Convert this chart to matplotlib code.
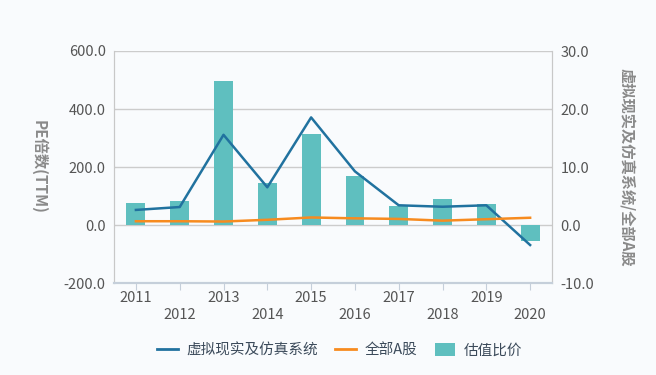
import matplotlib
matplotlib.use("Agg")
import matplotlib.pyplot as plt
from matplotlib.patches import Patch
from matplotlib.lines import Line2D

plt.rcParams['font.family'] = ['Noto Sans CJK SC', 'DejaVu Sans']

years = ['2011', '2012', '2013', '2014', '2015', '2016', '2017', '2018', '2019', '2020']
industry_pe = [52, 62, 311, 130, 371, 185, 68, 63, 68, -69]
all_a_pe = [13, 13, 12, 18, 26, 23, 21, 15, 20, 25]
ratio = [3.8, 4.2, 24.8, 7.3, 15.7, 8.5, 3.3, 4.4, 3.6, -2.8]

bg = '#f9fbfd'
tick_col = '#555555'
label_col = '#8a8a8a'

fig = plt.figure(figsize=(6.56, 3.75), dpi=100, facecolor=bg)
ax = fig.add_axes([0.1738, 0.2453, 0.6677, 0.6187])
ax.set_facecolor(bg)
ax2 = ax.twinx()

x = list(range(len(years)))
ax2.bar(x, ratio, width=0.43, color='#5fbfbf', zorder=2)
ax.plot(x, industry_pe, color='#21729f', lw=1.8, zorder=4)
ax.plot(x, all_a_pe, color='#f78b1f', lw=1.8, zorder=4)

# left axis draws lines on top of the bars
ax.set_zorder(ax2.get_zorder() + 1)
ax.patch.set_visible(False)
ax2.patch.set_visible(True)
ax2.patch.set_facecolor(bg)

ax.set_xlim(-0.5, len(years) - 0.5)
ax.set_ylim(-200, 600)
ax.set_yticks([-200, 0, 200, 400, 600])
ax.set_yticklabels([f'{v:.1f}' for v in [-200, 0, 200, 400, 600]])
ax2.set_ylim(-10, 30)
ax2.set_yticks([-10, 0, 10, 20, 30])
ax2.set_yticklabels([f'{v:.1f}' for v in [-10, 0, 10, 20, 30]])

for v in [0, 200, 400, 600]:
    ax2.axhline(v / 20, color='#cccccc', lw=1, zorder=1)

ax.set_xticks(x)
ax.set_xticklabels([y if i % 2 == 0 else '\n' + y for i, y in enumerate(years)])

for a in (ax, ax2):
    a.spines['top'].set_visible(False)
    a.spines['left'].set_color('#c8c8c8')
    a.spines['right'].set_color('#c8c8c8')
    a.spines['bottom'].set_color('#c5cfda')
    a.spines['bottom'].set_linewidth(1.5)
    a.tick_params(axis='y', length=0, labelsize=10.5, labelcolor=tick_col, pad=6)
ax.tick_params(axis='x', length=5, color='#c5cfda', labelsize=10.5, labelcolor=tick_col, pad=1)
ax2.tick_params(axis='x', length=0)

ax.set_ylabel('PE倍数(TTM)', rotation=-90, color=label_col, fontsize=11,
              fontweight='bold', labelpad=18, va='center')
ax2.set_ylabel('虚拟现实及仿真系统/全部A股', rotation=-90, color=label_col, fontsize=11,
               fontweight='bold', labelpad=24, va='center')

handles = [Line2D([], [], color='#21729f', lw=2),
           Line2D([], [], color='#f78b1f', lw=2),
           Patch(facecolor='#5fbfbf', edgecolor='none')]
fig.legend(handles, ['虚拟现实及仿真系统', '全部A股', '估值比价'], loc='center',
           bbox_to_anchor=(0.518, 0.065), ncol=3, frameon=False, fontsize=10.5,
           labelcolor='#3b4a5a', handlelength=1.4, handleheight=1.0,
           columnspacing=1.2, handletextpad=0.6)

fig.savefig('out.png', dpi=100, facecolor=bg)
